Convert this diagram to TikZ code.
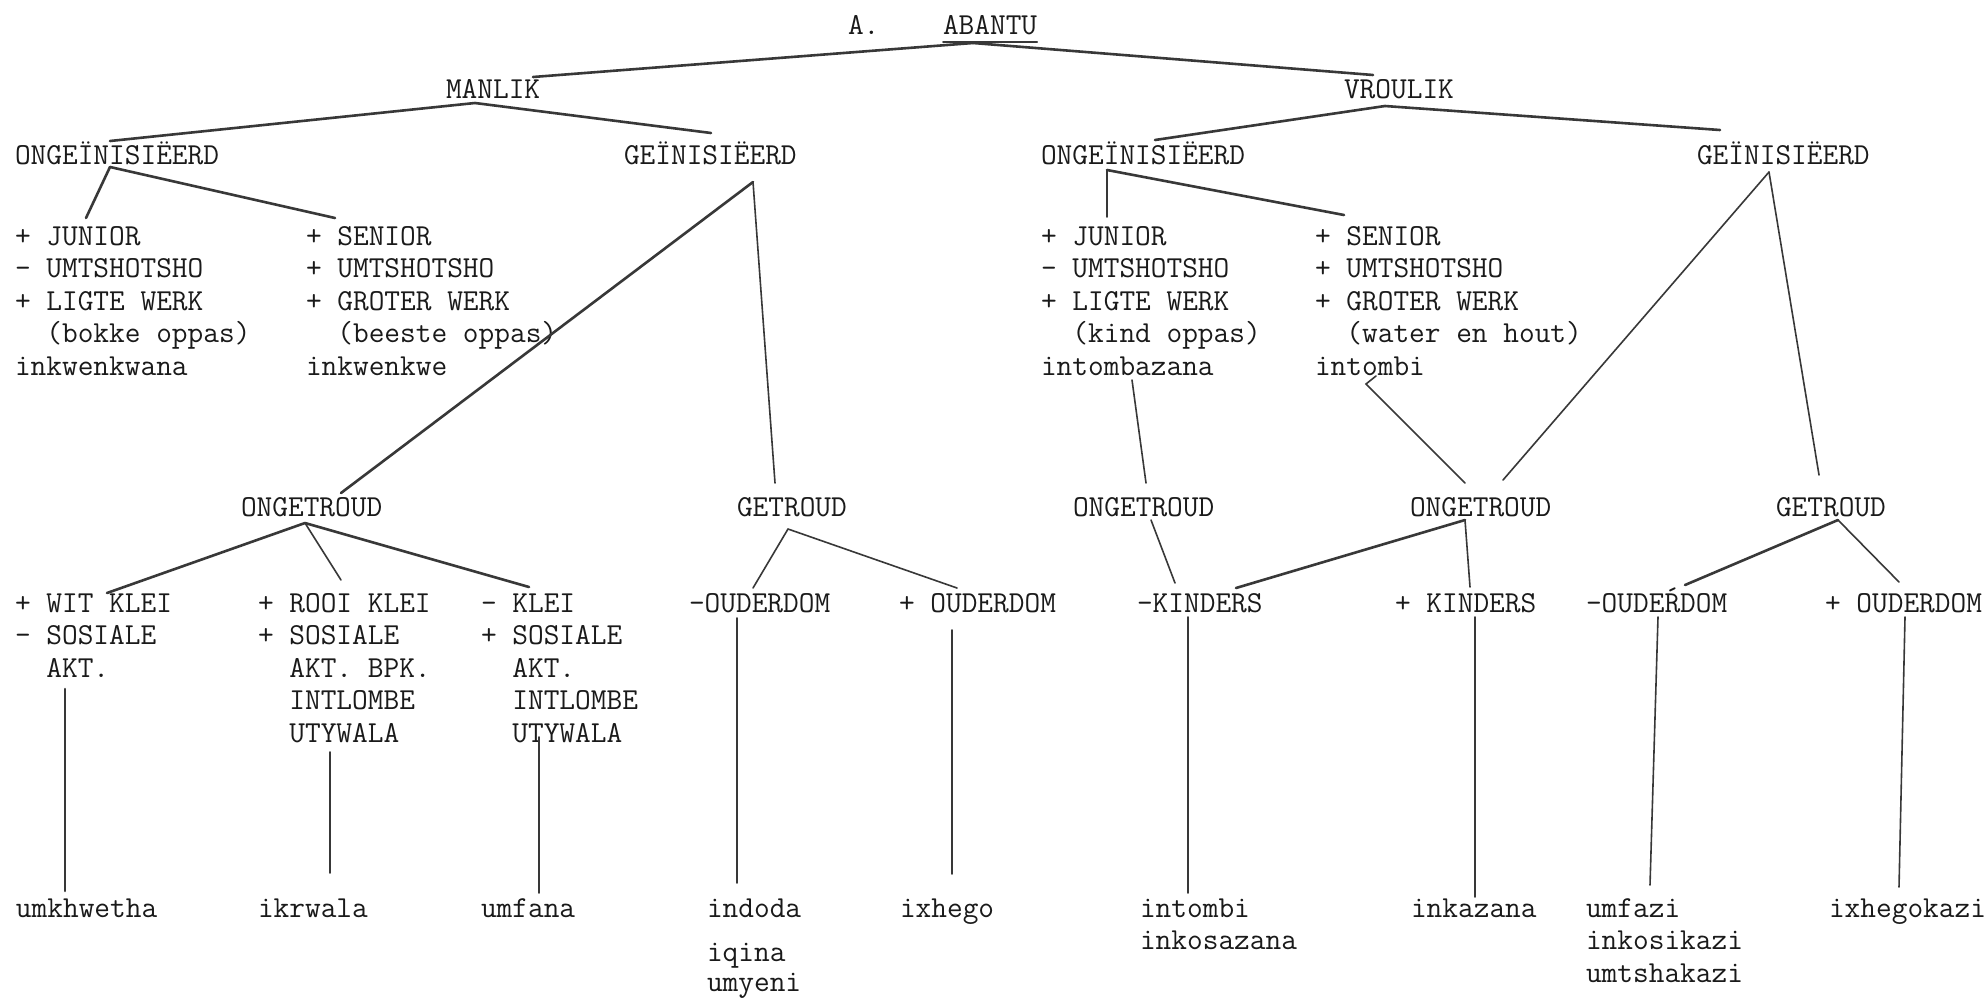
\documentclass[tikz,border=0pt]{standalone}
\usepackage{fontspec}
\definecolor{ink}{HTML}{1A1A1A}
\definecolor{lin}{HTML}{383838}
\newcommand{\mkblk}[1]{\begin{tabular}[t]{@{}l@{}}#1\end{tabular}}
\newcommand{\ind}{\phantom{xx}}
\begin{document}
\begin{tikzpicture}[x=1pt,y=-1pt,
  lbl/.style={anchor=base west,inner sep=0pt,outer sep=0pt,text=ink,font=\ttfamily\fontsize{30.48pt}{32.6pt}\selectfont\addfontfeature{FakeBold=0.5}},
  thk/.style={draw=lin,line width=2.6pt,line cap=round},
  thn/.style={draw=lin,line width=1.6pt,line cap=round}]
\fill[white] (0,0) rectangle (1988,1002);
\useasboundingbox (0,0) rectangle (1988,1002);

% level 0
\node[lbl] (adot) at (848,34) {A.};
\node[lbl] (abantu) at (943,34) {ABANTU};
\draw[thn] ([shift={(0,8)}]abantu.base west) -- ([shift={(0,8)}]abantu.base east);

% level 1
\node[lbl] (manlik) at (446,98) {MANLIK};
\node[lbl] (vroulik) at (1344,98) {VROULIK};

% level 2
\node[lbl] (ong1) at (15,164) {ONGEÏNISIËERD};
\node[lbl] (gein1) at (624,164) {GEÏNISIËERD};
\node[lbl] (ong2) at (1041,164) {ONGEÏNISIËERD};
\node[lbl] (gein2) at (1697,164) {GEÏNISIËERD};

% level 3 blocks
\node[lbl] (b1) at (15,245) {\mkblk{+ JUNIOR\\- UMTSHOTSHO\\+ LIGTE WERK\\\ind(bokke oppas)\\inkwenkwana}};
\node[lbl] (b2) at (306,245) {\mkblk{+ SENIOR\\+ UMTSHOTSHO\\+ GROTER WERK\\\ind(beeste oppas)\\inkwenkwe}};
\node[lbl] (b3) at (1041,245) {\mkblk{+ JUNIOR\\- UMTSHOTSHO\\+ LIGTE WERK\\\ind(kind oppas)\\intombazana}};
\node[lbl] (b4) at (1315,245) {\mkblk{+ SENIOR\\+ UMTSHOTSHO\\+ GROTER WERK\\\ind(water en hout)\\intombi}};

% level 4
\node[lbl] (unm1) at (241,516) {ONGETROUD};
\node[lbl] (mar1) at (737,516) {GETROUD};
\node[lbl] (unm2) at (1073,516) {ONGETROUD};
\node[lbl] (unm3) at (1410,516) {ONGETROUD};
\node[lbl] (mar2) at (1776,516) {GETROUD};

% level 5
\node[lbl] (c1) at (15,612) {\mkblk{+ WIT KLEI\\- SOSIALE\\\ind AKT.}};
\node[lbl] (c2) at (258,612) {\mkblk{+ ROOI KLEI\\+ SOSIALE\\\ind AKT. BPK.\\\ind INTLOMBE\\\ind UTYWALA}};
\node[lbl] (c3) at (481,612) {\mkblk{- KLEI\\+ SOSIALE\\\ind AKT.\\\ind INTLOMBE\\\ind UTYWALA}};
\node[lbl] (c4) at (689,612) {-OUDERDOM};
\node[lbl] (c5) at (899,612) {+ OUDERDOM};
\node[lbl] (c6) at (1137,612) {-KINDERS};
\node[lbl] (c7) at (1395,612) {+ KINDERS};
\node[lbl] (c8) at (1586,612) {-OUDEŔDOM};
\node[lbl] (c9) at (1825,612) {+ OUDERDOM};

% level 6
\node[lbl] (d1) at (16,917) {umkhwetha};
\node[lbl] (d2) at (258,917) {ikrwala};
\node[lbl] (d3) at (481,917) {umfana};
\node[lbl] (d4) at (707,917) {indoda};
\node[lbl] (d4b) at (707,961) {iqina};
\node[lbl] (d4c) at (707,991) {umyeni};
\node[lbl] (d5) at (900,917) {ixhego};
\node[lbl] (d6) at (1140,917) {\mkblk{intombi\\inkosazana}};
\node[lbl] (d7) at (1411,917) {inkazana};
\node[lbl] (d8) at (1586,917) {\mkblk{umfazi\\inkosikazi\\umtshakazi}};
\node[lbl] (d9) at (1829,917) {ixhegokazi};

% connectors
\draw[thk] ([shift={(30,9)}]abantu.base west) -- ([shift={(87,-21)}]manlik.base west);
\draw[thk] ([shift={(30,9)}]abantu.base west) -- ([shift={(29,-23)}]vroulik.base west);
\draw[thk] ([shift={(29,5)}]manlik.base west) -- ([shift={(95,-23)}]ong1.base west);
\draw[thk] ([shift={(29,5)}]manlik.base west) -- ([shift={(87,-31)}]gein1.base west);
\draw[thk] ([shift={(41,8)}]vroulik.base west) -- ([shift={(114,-24)}]ong2.base west);
\draw[thk] ([shift={(41,8)}]vroulik.base west) -- ([shift={(23,-34)}]gein2.base west);
\draw[thk] ([shift={(95,3)}]ong1.base west) -- ([shift={(71,-27)}]b1.base west);
\draw[thk] ([shift={(95,3)}]ong1.base west) -- ([shift={(29,-27)}]b2.base west);
\draw[thn] ([shift={(66,6)}]ong2.base west) -- ([shift={(66,-28)}]b3.base west);
\draw[thk] ([shift={(66,6)}]ong2.base west) -- ([shift={(29,-30)}]b4.base west);
\draw[thk] ([shift={(129,18)}]gein1.base west) -- ([shift={(100,-23)}]unm1.base west);
\draw[thn] ([shift={(129,18)}]gein1.base west) -- ([shift={(38,-33)}]mar1.base west);
\draw[thn] ([shift={(91,135)}]b3.base west) -- ([shift={(73,-33)}]unm2.base west);
\draw[thn] ([shift={(61,131)}]b4.base west) -- ([shift={(51,139)}]b4.base west) -- ([shift={(55,-33)}]unm3.base west);
\draw[thn] ([shift={(72,8)}]gein2.base west) -- ([shift={(93,-36)}]unm3.base west);
\draw[thn] ([shift={(72,8)}]gein2.base west) -- ([shift={(43,-41)}]mar2.base west);
\draw[thk] ([shift={(64,7)}]unm1.base west) -- ([shift={(92,-19)}]c1.base west);
\draw[thn] ([shift={(64,7)}]unm1.base west) -- ([shift={(83,-32)}]c2.base west);
\draw[thk] ([shift={(64,7)}]unm1.base west) -- ([shift={(48,-25)}]c3.base west);
\draw[thn] ([shift={(51,13)}]mar1.base west) -- ([shift={(64,-24)}]c4.base west);
\draw[thn] ([shift={(51,13)}]mar1.base west) -- ([shift={(58,-24)}]c5.base west);
\draw[thn] ([shift={(78,4)}]unm2.base west) -- ([shift={(38,-29)}]c6.base west);
\draw[thk] ([shift={(55,4)}]unm3.base west) -- ([shift={(99,-24)}]c6.base west);
\draw[thn] ([shift={(55,4)}]unm3.base west) -- ([shift={(75,-25)}]c7.base west);
\draw[thk] ([shift={(62,4)}]mar2.base west) -- ([shift={(99,-27)}]c8.base west);
\draw[thn] ([shift={(62,4)}]mar2.base west) -- ([shift={(74,-30)}]c9.base west);
\draw[thk] ([shift={(50,77)}]c1.base west) -- ([shift={(49,-26)}]d1.base west);
\draw[thn] ([shift={(72,140)}]c2.base west) -- ([shift={(72,-44)}]d2.base west);
\draw[thn] ([shift={(58,125)}]c3.base west) -- ([shift={(58,-24)}]d3.base west);
\draw[thn] ([shift={(48,6)}]c4.base west) -- ([shift={(30,-34)}]d4.base west);
\draw[thn] ([shift={(53,18)}]c5.base west) -- ([shift={(52,-43)}]d5.base west);
\draw[thn] ([shift={(51,5)}]c6.base west) -- ([shift={(48,-24)}]d6.base west);
\draw[thn] ([shift={(80,5)}]c7.base west) -- ([shift={(64,-20)}]d7.base west);
\draw[thn] ([shift={(72,5)}]c8.base west) -- ([shift={(64,-32)}]d8.base west);
\draw[thn] ([shift={(80,5)}]c9.base west) -- ([shift={(70,-30)}]d9.base west);
\end{tikzpicture}
\end{document}
